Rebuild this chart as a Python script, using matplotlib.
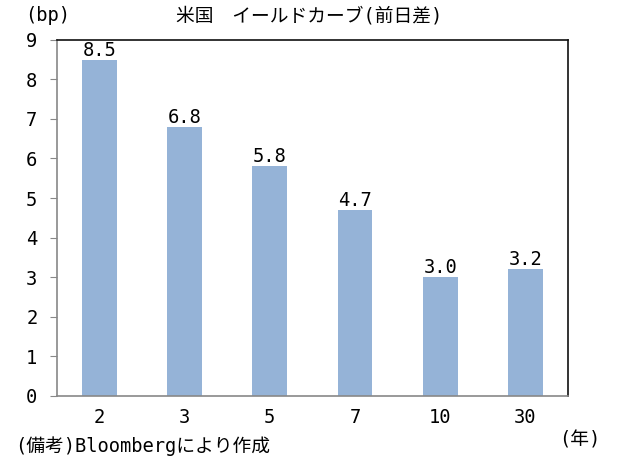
import matplotlib
matplotlib.use("Agg")
import matplotlib.pyplot as plt
import numpy as np

plt.rcParams['font.family'] = ['DejaVu Sans Mono', 'Noto Sans CJK JP']

# 年限と前日差(bp)
maturities = ['2', '3', '5', '7', '10', '30']
changes = [8.5, 6.8, 5.8, 4.7, 3.0, 3.2]

fs = 13.5

fig = plt.figure(figsize=(6.18, 4.68), dpi=100)
ax = fig.add_axes([0.092, 0.154, 0.827, 0.761])

x = np.arange(len(maturities))
ax.bar(x, changes, width=0.41, color='#95b3d7')

for xi, v in zip(x, changes):
    ax.text(xi, v, f'{v:.1f}', ha='center', va='bottom', fontsize=fs)

ax.set_xlim(-0.5, len(maturities) - 0.5)
ax.set_ylim(0, 9)
ax.set_yticks(range(0, 10))
ax.set_xticks(x)
ax.set_xticklabels(maturities)
ax.tick_params(axis='y', length=5, color='#888888', labelsize=fs, pad=9)
ax.tick_params(axis='x', length=0, labelsize=fs, pad=9)

for side in ['left', 'bottom']:
    ax.spines[side].set_color('#888888')
    ax.spines[side].set_linewidth(1.2)
for side in ['top', 'right']:
    ax.spines[side].set_color('#111111')
    ax.spines[side].set_linewidth(1.2)

fig.text(0.5, 0.966, '米国　イールドカーブ(前日差)', ha='center', va='center', fontsize=fs)
fig.text(0.04, 0.966, '(bp)', ha='left', va='center', fontsize=fs)
fig.text(0.972, 0.06, '(年)', ha='right', va='center', fontsize=fs)
fig.text(0.025, 0.047, '(備考)Bloombergにより作成', ha='left', va='center', fontsize=fs)

fig.savefig('out.png', dpi=100)
